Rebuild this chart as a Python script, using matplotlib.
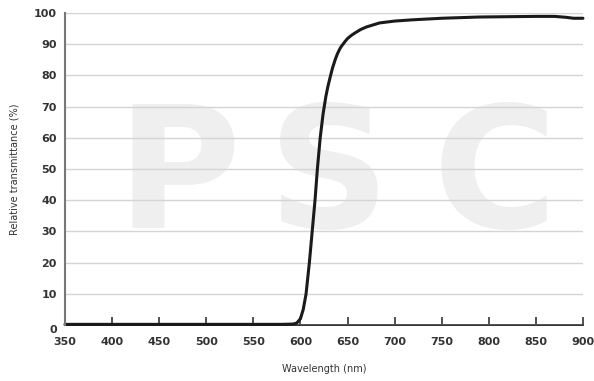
import numpy as np
import matplotlib.pyplot as plt

# transmittance curve (nm, %)
wavelength = [350, 400, 450, 500, 550, 580, 592, 596, 600, 603, 606, 609.5, 612.5,
              615.5, 618, 621, 624, 627, 629, 631, 634, 637, 639, 641, 643, 645.5,
              647.5, 650, 654, 658, 664, 670, 684, 700, 719, 750, 790, 820, 850,
              870, 882, 890, 900]
transmittance = [0.2, 0.2, 0.2, 0.2, 0.2, 0.2, 0.3, 0.6, 2, 5, 10, 20, 30,
                 40, 50, 60, 67.5, 73.2, 76.2, 78.7, 82.3, 85.1, 86.7, 88, 89.1, 90.1,
                 90.9, 91.8, 92.8, 93.6, 94.7, 95.5, 96.8, 97.4, 97.8, 98.3, 98.7, 98.8, 98.9,
                 98.9, 98.6, 98.3, 98.3]

xticks = list(range(350, 901, 50))
yticks = list(range(0, 101, 10))

plt.rcParams['font.family'] = 'DejaVu Sans'
text_col = '#333333'

fig = plt.figure(figsize=(5.94, 3.81), dpi=100)
ax = fig.add_axes([0.1094, 0.147, 0.872, 0.819])

# light watermark behind everything
for letter, xpos in [("P", 0.22), ("S", 0.51), ("C", 0.83)]:
    ax.text(xpos, 0.46, letter, transform=ax.transAxes, fontsize=122,
            fontweight='bold', color='#efefef', ha='center', va='center', zorder=0)

ax.plot(wavelength, transmittance, color='#1a1a1a', lw=2.2, zorder=3,
        solid_capstyle='round', solid_joinstyle='round', clip_on=False)

ax.set_xlim(350, 900)
ax.set_ylim(0, 100)
ax.set_xticks(xticks)
ax.set_yticks(yticks)
ax.grid(axis='y', color='#d4d4d4', lw=1, zorder=1)
ax.set_axisbelow(False)

for s in ['top', 'right']:
    ax.spines[s].set_visible(False)
ax.spines['left'].set_color('#777777')
ax.spines['left'].set_linewidth(1.5)
ax.spines['bottom'].set_color('#222222')
ax.spines['bottom'].set_linewidth(1.3)
ax.spines['left'].set_zorder(4)
ax.spines['bottom'].set_zorder(2)

ax.tick_params(axis='x', direction='in', length=6, width=1.2, color='#333333',
               labelsize=8, labelcolor=text_col, pad=9)
ax.tick_params(axis='y', length=0, labelsize=8, labelcolor=text_col, pad=6)
for lab in ax.get_xticklabels() + ax.get_yticklabels():
    lab.set_fontweight('bold')
# the zero label sits a little below the axis line
ax.get_yticklabels()[0].set_va('top')

ax.set_xlabel("Wavelength (nm)", fontsize=7, color=text_col, labelpad=12)
ax.set_ylabel("Relative transmittance (%)", fontsize=7, color=text_col, labelpad=10)

fig.savefig("out.png", dpi=100)
